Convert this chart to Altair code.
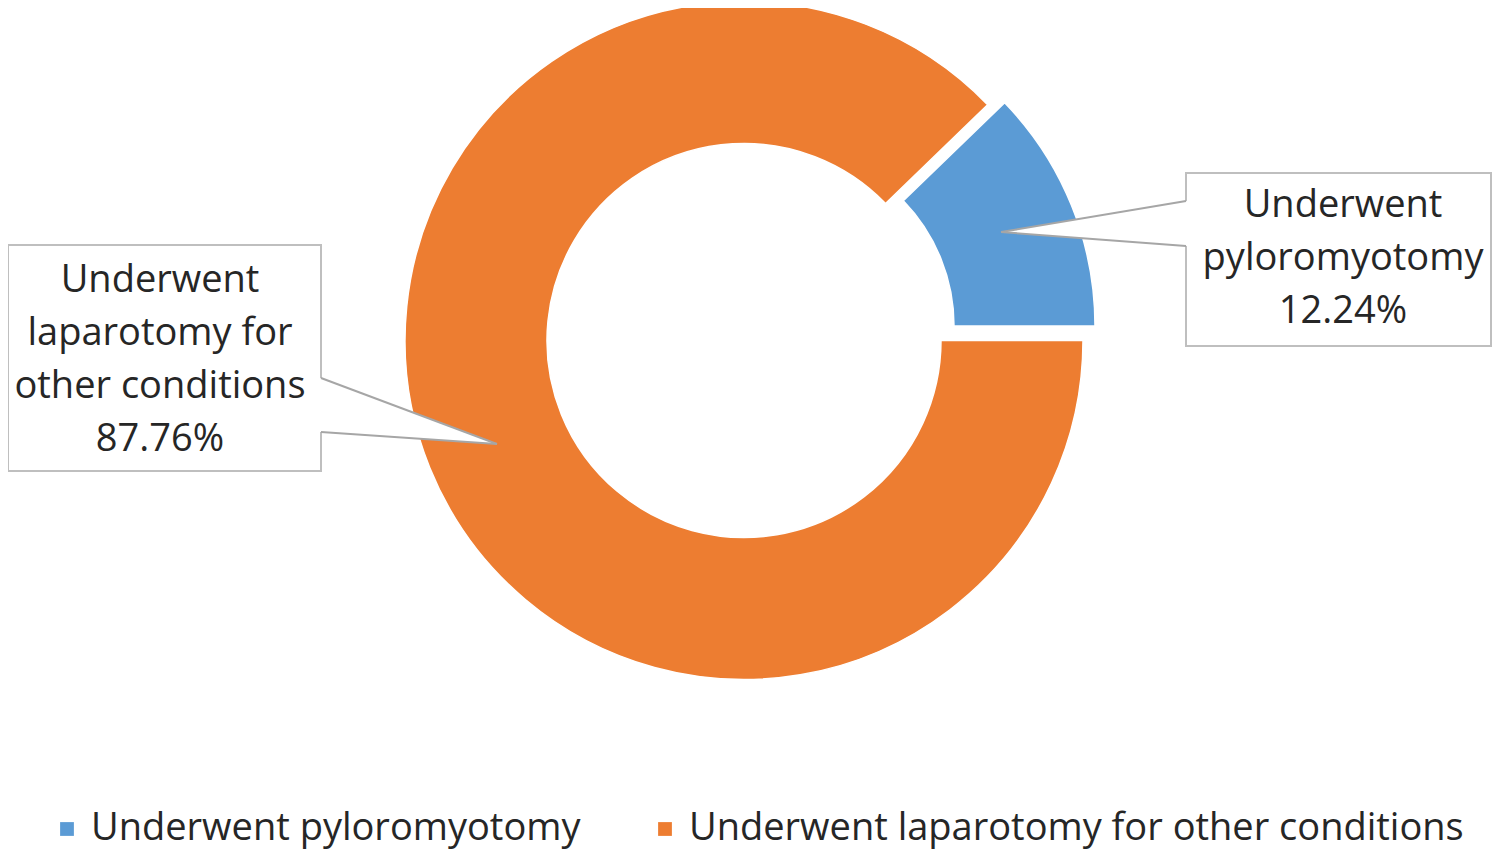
import math
import altair as alt
import pandas as pd

# ---- data ----
categories = ["Underwent pyloromyotomy", "Underwent laparotomy for other conditions"]
values = [12.24, 87.76]
colors = ["#5B9BD5", "#ED7D31"]
label_lines = [["Underwent", "pyloromyotomy"], ["Underwent", "laparotomy for", "other conditions"]]

# ---- layout (pixels inside the chart, not data) ----
LAYOUT = {
    categories[0]: dict(cx=766, cy=318, r_out=321, r_in=180,
                        box=(1178, 165, 1483, 338), notch=(193, 238), tip=(993, 224),
                        inset=1186, text=(1335, 198)),
    categories[1]: dict(cx=736, cy=332.5, r_out=339, r_in=197,
                        box=(0, 237, 313, 463), notch=(370, 424), tip=(489, 436),
                        inset=305, text=(152, 273)),
}
FONT = "Open Sans"
FS = 38
LH = 53
TXT = "#262626"

total = sum(values)
start = math.pi / 2 - 2 * math.pi * values[0] / total

df = pd.DataFrame({
    "category": categories,
    "value": values,
    "order": list(range(len(categories))),
    "label": ["\n".join(l + [f"{v:.2f}%"]) for l, v in zip(label_lines, values)],
})

theta_scale = alt.Scale(domain=[0, total], range=[start, start + 2 * math.pi])
color_scale = alt.Scale(domain=categories, range=colors)

base = alt.Chart(df).transform_window(
    cum="sum(value)", sort=[alt.SortField("order")], frame=[None, 0]
).transform_calculate(start="datum.cum - datum.value")

legend = alt.Legend(
    orient="none", legendX=40, legendY=802, direction="horizontal", title=None,
    symbolType="square", symbolSize=190, symbolStrokeWidth=0,
    labelFontSize=FS, labelFont=FONT, labelColor=TXT, labelOffset=5,
    columnPadding=65, labelLimit=0, padding=0,
)

layers = []
for cat in categories:
    L = LAYOUT[cat]
    layers.append(
        base.transform_filter(alt.datum.category == cat)
        .mark_arc(innerRadius=L["r_in"], outerRadius=L["r_out"], stroke="white", strokeWidth=1.5)
        .encode(
            theta=alt.Theta("start:Q", scale=theta_scale, stack=None),
            theta2="cum:Q",
            color=alt.Color("category:N", scale=color_scale, legend=legend),
            x=alt.value(L["cx"]),
            y=alt.value(L["cy"]),
        )
    )

# callout geometry tables
boxes, areas, rules, texts = [], [], [], []
for cat, lab in zip(categories, df["label"]):
    L = LAYOUT[cat]
    x0, y0, x1, y1 = L["box"]
    boxes.append(dict(category=cat, x0=x0, y0=y0, x1=x1, y1=y1))
    edge = x1 if L["tip"][0] > x1 else x0
    n0, n1 = L["notch"]
    tx, ty = L["tip"]
    areas += [
        dict(category=cat, x=L["inset"], ya=n0, yb=n1),
        dict(category=cat, x=edge, ya=n0, yb=n1),
        dict(category=cat, x=tx, ya=ty, yb=ty),
    ]
    rules += [
        dict(category=cat, x=edge, y=n0, x2=tx, y2=ty),
        dict(category=cat, x=edge, y=n1, x2=tx, y2=ty),
    ]
    texts.append(dict(category=cat, x=L["text"][0], y=L["text"][1], label=lab))

box_layer = alt.Chart(pd.DataFrame(boxes)).mark_rect(
    fill="white", stroke="#BFBFBF", strokeWidth=2
).encode(
    x=alt.X("x0:Q", scale=None), x2="x1:Q",
    y=alt.Y("y0:Q", scale=None), y2="y1:Q",
)

area_layer = alt.Chart(pd.DataFrame(areas)).mark_area(
    fill="white", opacity=1, strokeWidth=0
).encode(
    x=alt.X("x:Q", scale=None),
    y=alt.Y("ya:Q", scale=None), y2="yb:Q",
    detail="category:N",
)

rule_layer = alt.Chart(pd.DataFrame(rules)).mark_rule(
    color="#A6A6A6", strokeWidth=2
).encode(
    x=alt.X("x:Q", scale=None), x2="x2:Q",
    y=alt.Y("y:Q", scale=None), y2="y2:Q",
)

text_layer = alt.Chart(pd.DataFrame(texts)).mark_text(
    align="center", baseline="middle", lineBreak="\n", lineHeight=LH,
    fontSize=FS, font=FONT, color=TXT,
).encode(
    x=alt.X("x:Q", scale=None),
    y=alt.Y("y:Q", scale=None),
    text="label:N",
)

chart = alt.layer(*layers, box_layer, area_layer, rule_layer, text_layer).properties(
    width=1484, height=842, padding=0,
    autosize=alt.AutoSizeParams(type="none"),
).configure_view(stroke=None)

chart.save("out.html", embed_options={"renderer": "svg", "actions": False})
